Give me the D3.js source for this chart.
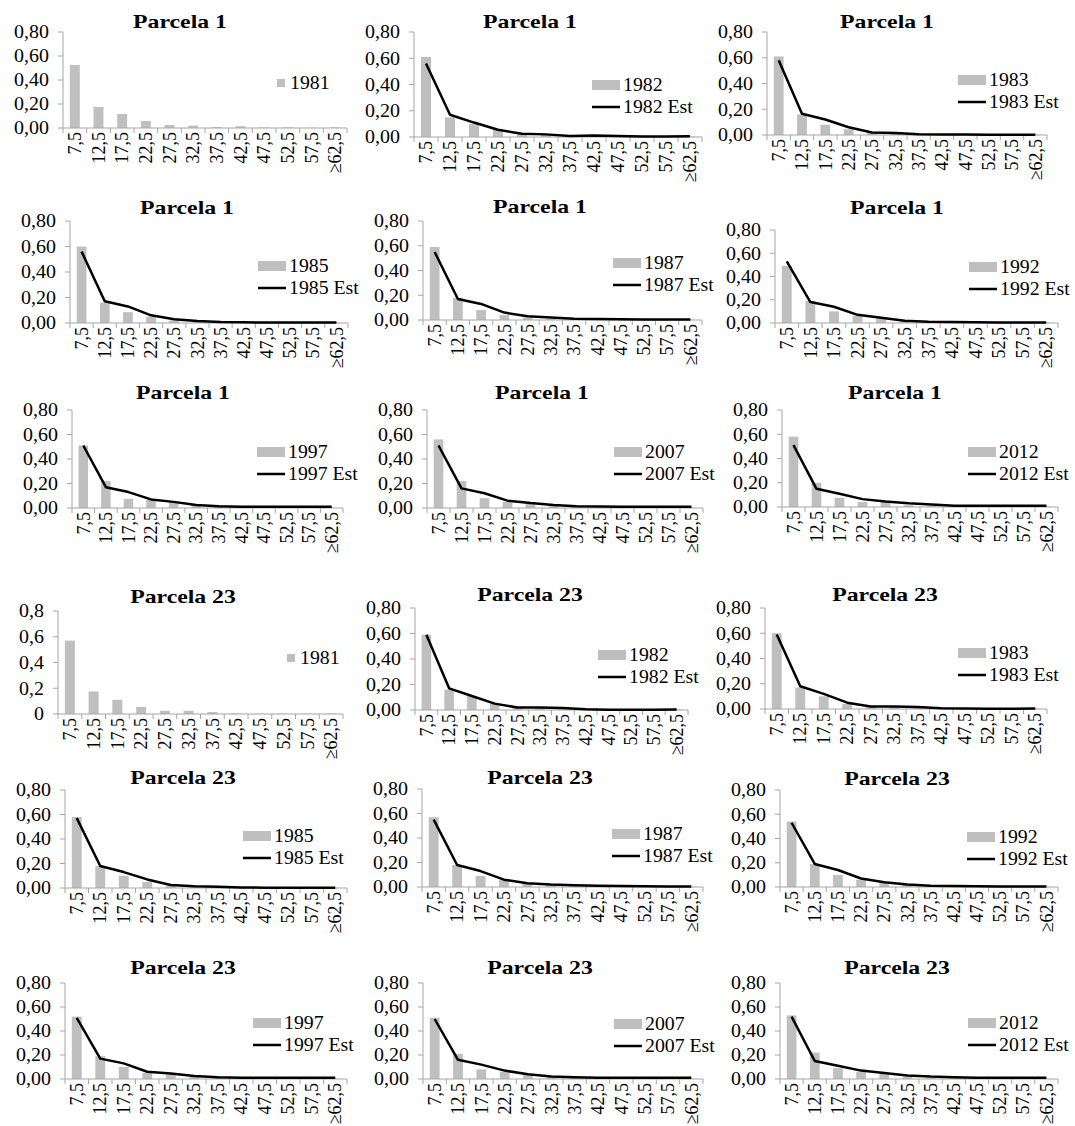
<!DOCTYPE html>
<html><head><meta charset="utf-8">
<script src="https://cdn.jsdelivr.net/npm/d3@7"></script>
<style>html,body{margin:0;padding:0;background:#fff}svg{display:block}</style>
</head><body>
<script>
// ---------- DATA ----------
const categories = ["7,5","12,5","17,5","22,5","27,5","32,5","37,5","42,5","47,5","52,5","57,5","≥62,5"];
const yTicks = [0, 0.2, 0.4, 0.6, 0.8];
const yTickLabels2 = ["0,00","0,20","0,40","0,60","0,80"];
const yTickLabels1 = ["0","0,2","0,4","0,6","0,8"];
const titles = ["Parcela 1", "Parcela 23"];
const years = ["1981","1982","1983","1985","1987","1992","1997","2007","2012"];

// Parcela 1 observed / estimated
const p1_1981 = [0.525,0.175,0.117,0.058,0.025,0.02,0.008,0.015,0.004,0.006,0.002,0.006];
const p1_1982 = [0.61,0.15,0.10,0.06,0.03,0.02,0.01,0.01,0.005,0.003,0.003,0.005];
const p1_1982e = [0.56,0.17,0.11,0.055,0.025,0.02,0.008,0.012,0.008,0.004,0.004,0.006];
const p1_1983 = [0.61,0.16,0.08,0.045,0.02,0.01,0.005,0.004,0.003,0.002,0.002,0.003];
const p1_1983e = [0.58,0.165,0.12,0.06,0.02,0.015,0.005,0.004,0.003,0.002,0.002,0.002];
const p1_1985 = [0.60,0.16,0.085,0.05,0.02,0.01,0.005,0.003,0.002,0.002,0.001,0.002];
const p1_1985e = [0.56,0.17,0.13,0.06,0.03,0.015,0.007,0.005,0.004,0.004,0.004,0.004];
const p1_1987 = [0.59,0.18,0.08,0.04,0.02,0.01,0.005,0.003,0.002,0.002,0.001,0.002];
const p1_1987e = [0.55,0.17,0.13,0.06,0.03,0.02,0.01,0.008,0.006,0.005,0.005,0.005];
const p1_1992 = [0.49,0.19,0.10,0.06,0.04,0.015,0.008,0.005,0.003,0.002,0.002,0.002];
const p1_1992e = [0.53,0.18,0.14,0.07,0.045,0.02,0.01,0.008,0.006,0.005,0.004,0.004];
const p1_1997 = [0.51,0.22,0.075,0.07,0.05,0.02,0.01,0.005,0.003,0.002,0.002,0.002];
const p1_1997e = [0.51,0.17,0.13,0.07,0.05,0.025,0.015,0.01,0.01,0.01,0.01,0.01];
const p1_2007 = [0.56,0.22,0.08,0.05,0.04,0.02,0.01,0.005,0.003,0.002,0.002,0.002];
const p1_2007e = [0.51,0.16,0.12,0.06,0.04,0.025,0.015,0.012,0.01,0.01,0.01,0.01];
const p1_2012 = [0.58,0.20,0.075,0.04,0.045,0.015,0.008,0.005,0.003,0.002,0.002,0.002];
const p1_2012e = [0.51,0.15,0.11,0.065,0.045,0.03,0.02,0.01,0.01,0.01,0.01,0.01];

// Parcela 23 observed / estimated
const p23_1981 = [0.57,0.175,0.11,0.055,0.025,0.025,0.015,0.005,0.002,0.002,0.002,0.004];
const p23_1982 = [0.59,0.16,0.11,0.05,0.025,0.02,0.02,0.01,0.004,0.003,0.002,0.004];
const p23_1982e = [0.59,0.17,0.11,0.05,0.02,0.02,0.015,0.005,0.002,0.002,0.002,0.004];
const p23_1983 = [0.60,0.17,0.10,0.04,0.02,0.015,0.01,0.008,0.003,0.002,0.002,0.003];
const p23_1983e = [0.59,0.18,0.12,0.05,0.02,0.02,0.015,0.006,0.003,0.002,0.002,0.003];
const p23_1985 = [0.58,0.18,0.10,0.05,0.02,0.01,0.005,0.003,0.002,0.002,0.001,0.002];
const p23_1985e = [0.57,0.18,0.13,0.07,0.025,0.015,0.01,0.005,0.003,0.002,0.002,0.002];
const p23_1987 = [0.57,0.18,0.09,0.06,0.03,0.015,0.008,0.005,0.003,0.002,0.002,0.002];
const p23_1987e = [0.55,0.18,0.13,0.06,0.03,0.02,0.015,0.01,0.008,0.006,0.005,0.005];
const p23_1992 = [0.54,0.19,0.10,0.06,0.04,0.02,0.008,0.005,0.003,0.002,0.002,0.002];
const p23_1992e = [0.53,0.19,0.14,0.07,0.04,0.02,0.01,0.008,0.006,0.005,0.005,0.005];
const p23_1997 = [0.52,0.19,0.10,0.05,0.04,0.02,0.01,0.005,0.003,0.002,0.002,0.002];
const p23_1997e = [0.51,0.17,0.13,0.06,0.045,0.025,0.015,0.01,0.01,0.01,0.01,0.01];
const p23_2007 = [0.51,0.21,0.08,0.06,0.04,0.02,0.01,0.005,0.003,0.002,0.002,0.002];
const p23_2007e = [0.50,0.16,0.12,0.07,0.04,0.02,0.015,0.01,0.01,0.01,0.01,0.01];
const p23_2012 = [0.53,0.22,0.09,0.06,0.05,0.02,0.01,0.005,0.003,0.002,0.002,0.002];
const p23_2012e = [0.52,0.15,0.11,0.07,0.05,0.03,0.02,0.015,0.01,0.01,0.01,0.01];

const panels = [
  {t:0, y:0, obs:p1_1981, est:null, lab:yTickLabels2},
  {t:0, y:1, obs:p1_1982, est:p1_1982e, lab:yTickLabels2},
  {t:0, y:2, obs:p1_1983, est:p1_1983e, lab:yTickLabels2},
  {t:0, y:3, obs:p1_1985, est:p1_1985e, lab:yTickLabels2},
  {t:0, y:4, obs:p1_1987, est:p1_1987e, lab:yTickLabels2},
  {t:0, y:5, obs:p1_1992, est:p1_1992e, lab:yTickLabels2},
  {t:0, y:6, obs:p1_1997, est:p1_1997e, lab:yTickLabels2},
  {t:0, y:7, obs:p1_2007, est:p1_2007e, lab:yTickLabels2},
  {t:0, y:8, obs:p1_2012, est:p1_2012e, lab:yTickLabels2},
  {t:1, y:0, obs:p23_1981, est:null, lab:yTickLabels1},
  {t:1, y:1, obs:p23_1982, est:p23_1982e, lab:yTickLabels2},
  {t:1, y:2, obs:p23_1983, est:p23_1983e, lab:yTickLabels2},
  {t:1, y:3, obs:p23_1985, est:p23_1985e, lab:yTickLabels2},
  {t:1, y:4, obs:p23_1987, est:p23_1987e, lab:yTickLabels2},
  {t:1, y:5, obs:p23_1992, est:p23_1992e, lab:yTickLabels2},
  {t:1, y:6, obs:p23_1997, est:p23_1997e, lab:yTickLabels2},
  {t:1, y:7, obs:p23_2007, est:p23_2007e, lab:yTickLabels2},
  {t:1, y:8, obs:p23_2012, est:p23_2012e, lab:yTickLabels2}
];

// ---------- LAYOUT ----------
// plot box: [left, right, top(0.8), bottom(0)], title [cx, baseline], legend [swatchX, y]
const layout = [
  {b:[63,347,32,128],  tt:[180,28],  lg:[277,83]},
  {b:[414,702,32,137], tt:[530,28],  lg:[592,85]},
  {b:[767,1047,32,135],tt:[887,28],  lg:[958,80]},
  {b:[70,348,221,323], tt:[187,214], lg:[258,266]},
  {b:[423,702,221,320],tt:[540,213], lg:[613,263]},
  {b:[775,1058,230,323],tt:[897,214],lg:[969,267]},
  {b:[72,343,410,508], tt:[183,399], lg:[257,452]},
  {b:[427,703,410,508],tt:[542,399], lg:[614,452]},
  {b:[782,1058,410,507],tt:[895,399],lg:[968,452]},
  {b:[58,343,611,714], tt:[183,603], lg:[287,658]},
  {b:[415,688,608,710],tt:[530,601], lg:[598,655]},
  {b:[765,1047,608,709],tt:[885,601],lg:[958,653]},
  {b:[65,347,790,888], tt:[183,784], lg:[243,836]},
  {b:[422,703,789,887],tt:[540,784], lg:[612,834]},
  {b:[780,1058,790,887],tt:[897,785],lg:[967,837]},
  {b:[65,347,983,1079],tt:[183,974], lg:[253,1023]},
  {b:[423,703,983,1079],tt:[540,974],lg:[614,1024]},
  {b:[780,1058,983,1079],tt:[897,974],lg:[968,1023]}
];

const W = 1075, H = 1126;
const FONT = "'Liberation Serif','Times New Roman',serif";
const BAR = "#bfbfbf", AXIS = "#a6a6a6";
const svg = d3.select("body").append("svg").attr("width", W).attr("height", H);

function stext(g, x, y, str, opts) {
  const t = g.append("text")
    .attr("transform", `translate(${x},${y}) scale(${opts.sx||1},1)` + (opts.rot ? ` rotate(${opts.rot})` : ""))
    .attr("font-family", FONT).attr("font-size", opts.size)
    .attr("text-anchor", opts.anchor || "start")
    .attr("fill", "#000")
    .text(str);
  if (opts.bold) t.attr("font-weight", "bold");
  if (opts.dy) t.attr("dy", opts.dy);
  return t;
}

panels.forEach((p, i) => {
  const L = layout[i];
  const [l, r, t, b] = L.b;
  const g = svg.append("g");
  const x = d3.scaleBand().domain(categories).range([l, r]).padding(0);
  const y = d3.scaleLinear().domain([0, 0.8]).range([b, t]);
  const bw = x.bandwidth() * 0.42;

  // bars
  g.selectAll("rect.bar").data(p.obs).join("rect")
    .attr("x", (d, k) => x(categories[k]) + x.bandwidth() / 2 - bw / 2)
    .attr("y", d => y(d))
    .attr("width", bw)
    .attr("height", d => y(0) - y(d))
    .attr("fill", BAR);

  // y axis
  g.append("line").attr("x1", l).attr("x2", l).attr("y1", t).attr("y2", b)
    .attr("stroke", AXIS).attr("stroke-width", 1);
  yTicks.forEach((v, k) => {
    g.append("line").attr("x1", l - 5).attr("x2", l).attr("y1", y(v)).attr("y2", y(v))
      .attr("stroke", AXIS).attr("stroke-width", 1);
    stext(g, l - 14, y(v), p.lab[k], {size: 19, sx: 1.05, anchor: "end", dy: "0.33em"});
  });

  // x axis
  g.append("line").attr("x1", l).attr("x2", r).attr("y1", b).attr("y2", b)
    .attr("stroke", AXIS).attr("stroke-width", 1);
  categories.forEach((c, k) => {
    g.append("line").attr("x1", x(c)).attr("x2", x(c)).attr("y1", b).attr("y2", b + 5)
      .attr("stroke", AXIS).attr("stroke-width", 1);
  });
  g.append("line").attr("x1", r).attr("x2", r).attr("y1", b).attr("y2", b + 5)
    .attr("stroke", AXIS).attr("stroke-width", 1);
  categories.forEach(c => {
    stext(g, x(c) + x.bandwidth() / 2, b + 4, c, {size: 18, sx: 1.05, rot: -90, anchor: "end", dy: "0.33em"});
  });

  // estimated line
  if (p.est) {
    const line = d3.line().x((d, k) => x(categories[k]) + x.bandwidth() / 2).y(d => y(d));
    g.append("path").datum(p.est).attr("d", line)
      .attr("fill", "none").attr("stroke", "#000").attr("stroke-width", 2.5)
      .attr("stroke-linejoin", "round");
  }

  // title
  stext(g, L.tt[0], L.tt[1], titles[p.t], {size: 19, sx: 1.25, anchor: "middle", bold: true});

  // legend
  const [lx, ly] = L.lg;
  if (p.est) {
    g.append("rect").attr("x", lx).attr("y", ly - 5).attr("width", 28).attr("height", 10).attr("fill", BAR);
    stext(g, lx + 31, ly, years[p.y], {size: 18, sx: 1.1, dy: "0.33em"});
    g.append("line").attr("x1", lx).attr("x2", lx + 28).attr("y1", ly + 22).attr("y2", ly + 22)
      .attr("stroke", "#000").attr("stroke-width", 2.5);
    stext(g, lx + 31, ly + 22, years[p.y] + " Est", {size: 18, sx: 1.1, dy: "0.33em"});
  } else {
    g.append("rect").attr("x", lx).attr("y", ly - 4).attr("width", 8).attr("height", 8).attr("fill", BAR);
    stext(g, lx + 13, ly, years[p.y], {size: 18, sx: 1.1, dy: "0.33em"});
  }
});
</script>
</body></html>
